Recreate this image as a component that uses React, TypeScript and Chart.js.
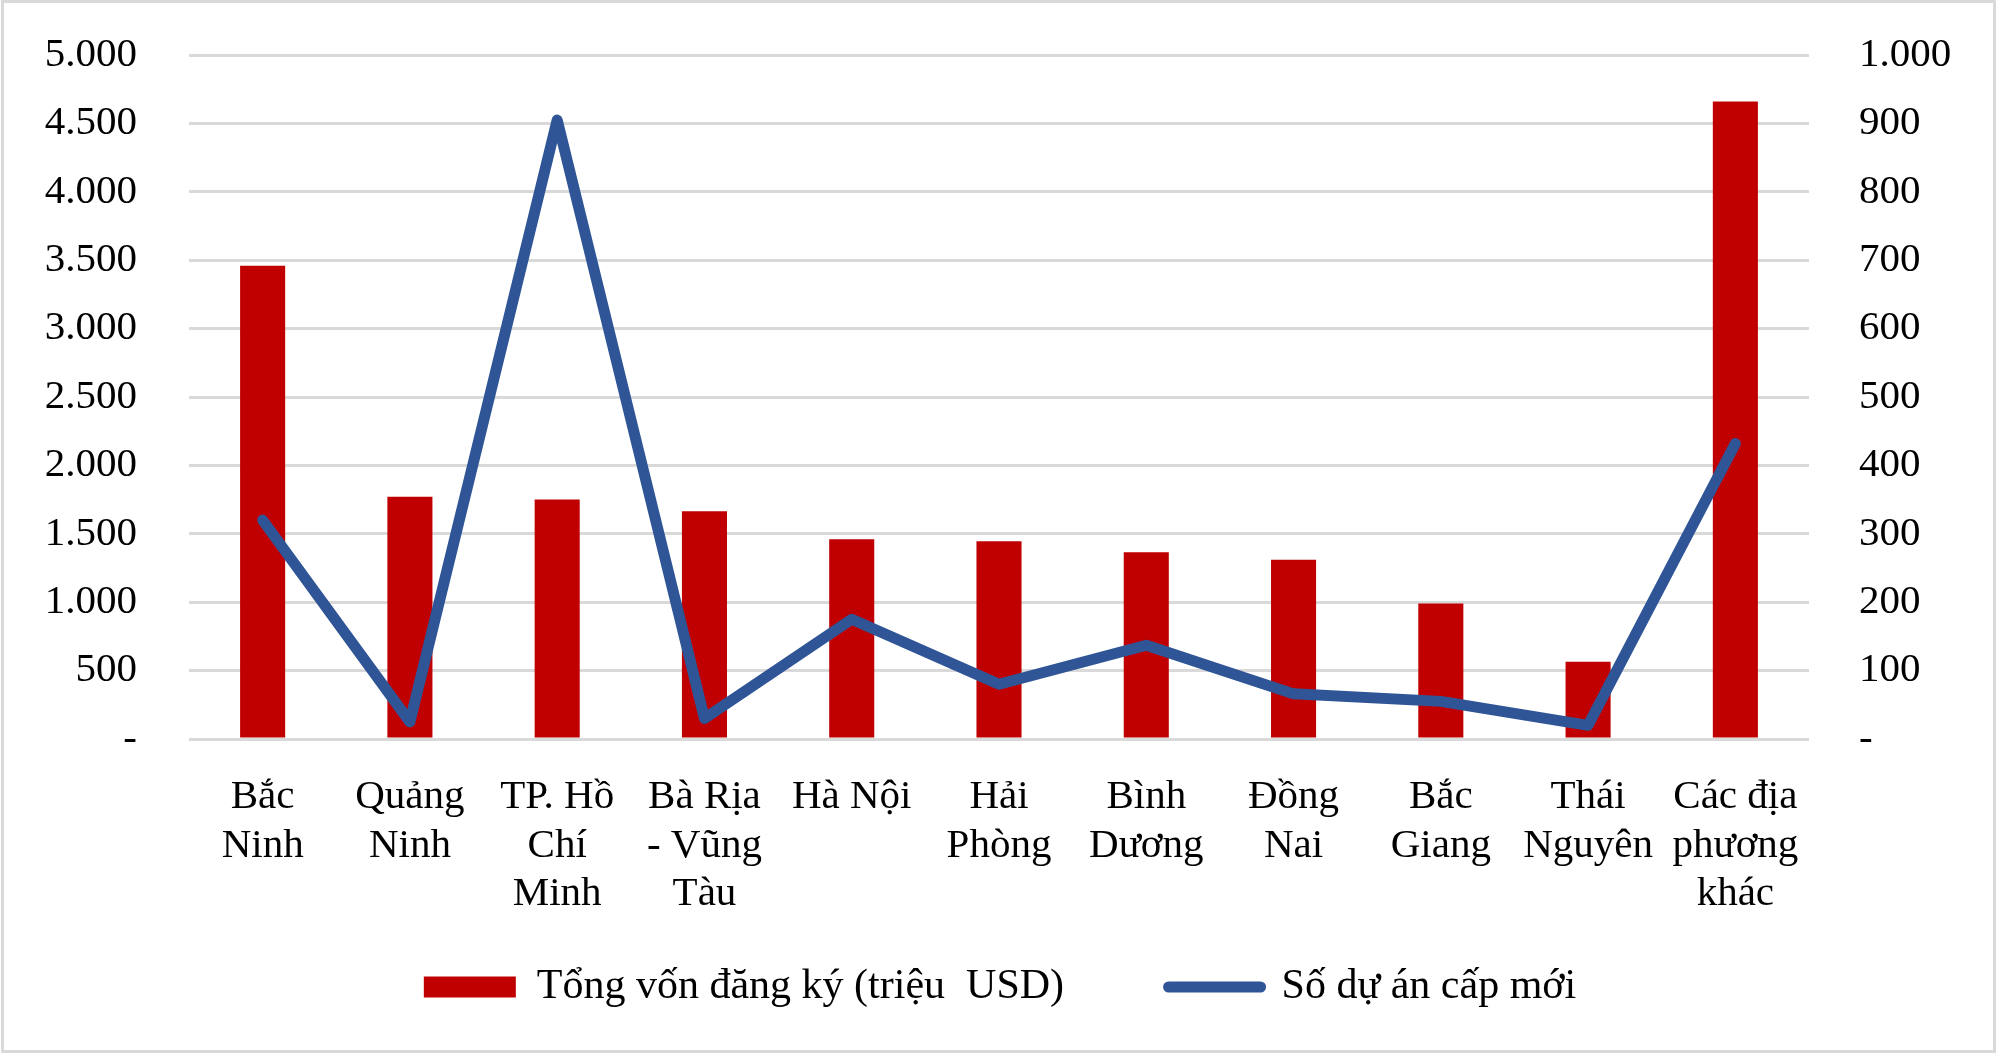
import React, { useEffect, useRef } from "react";
import { Chart, registerables } from "chart.js";

Chart.register(...registerables);

const categories: string[][] = [
  ["Bắc", "Ninh"],
  ["Quảng", "Ninh"],
  ["TP. Hồ", "Chí", "Minh"],
  ["Bà Rịa", "- Vũng", "Tàu"],
  ["Hà Nội"],
  ["Hải", "Phòng"],
  ["Bình", "Dương"],
  ["Đồng", "Nai"],
  ["Bắc", "Giang"],
  ["Thái", "Nguyên"],
  ["Các địa", "phương", "khác"],
];

const registeredCapital: number[] = [3460, 1770, 1750, 1665, 1460, 1445, 1365, 1310, 990, 565, 4660];
const newProjects: number[] = [320, 25, 905, 30, 175, 80, 137, 66, 55, 20, 432];

const seriesNames = ["Tổng vốn đăng ký (triệu  USD)", "Số dự án cấp mới"];

const RED = "#C00000";
const BLUE = "#2F5597";
const GRID = "#D9D9D9";
const FONT = "'Liberation Serif', 'Times New Roman', serif";

const fmt = (v: number) => {
  if (v === 0) return "-";
  return Math.round(v).toString().replace(/\B(?=(\d{3})+(?!\d))/g, ".");
};

export default function App() {
  const ref = useRef<HTMLCanvasElement | null>(null);

  useEffect(() => {
    if (!ref.current) return;
    const chart = new Chart(ref.current, {
      type: "bar",
      data: {
        labels: categories,
        datasets: [
          {
            type: "bar",
            label: seriesNames[0],
            data: registeredCapital,
            backgroundColor: RED,
            borderWidth: 0,
            barPercentage: 0.306,
            categoryPercentage: 1,
            yAxisID: "y",
            order: 1,
          },
          {
            type: "line",
            label: seriesNames[1],
            data: newProjects,
            borderColor: BLUE,
            backgroundColor: BLUE,
            borderWidth: 11,
            borderJoinStyle: "round",
            borderCapStyle: "round",
            pointRadius: 0,
            tension: 0,
            yAxisID: "y1",
            order: 0,
          } as any,
        ],
      },
      options: {
        responsive: false,
        animation: false,
        layout: { padding: { top: 55, bottom: 38, left: 0, right: 0 } },
        plugins: {
          tooltip: { enabled: false },
          legend: {
            position: "bottom",
            labels: {
              usePointStyle: true,
              pointStyleWidth: 92,
              boxHeight: 21,
              padding: 52,
              color: "#000",
              font: { family: FONT, size: 42 },
              generateLabels: (chart: any) => {
                const items = Chart.defaults.plugins.legend.labels.generateLabels(chart);
                return items
                  .sort((a: any, b: any) => a.datasetIndex - b.datasetIndex)
                  .map((it: any) =>
                    it.datasetIndex === 0
                      ? { ...it, text: it.text + "     ", pointStyle: "rect", lineWidth: 0, fillStyle: RED, strokeStyle: RED }
                      : { ...it, pointStyle: "line", lineWidth: 11, strokeStyle: BLUE, fillStyle: BLUE, lineCap: "round" }
                  );
              },
            },
          },
        },
        scales: {
          x: {
            grid: { display: false },
            border: { display: false },
            ticks: {
              color: "#000",
              font: { family: FONT, size: 41, lineHeight: 1.183 },
              padding: 26,
              maxRotation: 0,
              autoSkip: false,
            },
            afterFit: (s: any) => {
              s.height = 175;
            },
          },
          y: {
            position: "left",
            min: 0,
            max: 5000,
            grid: { color: GRID, lineWidth: 3, drawTicks: true, tickLength: 52, tickColor: "rgba(0,0,0,0)" },
            border: { display: false },
            ticks: {
              stepSize: 500,
              padding: 0,
              color: "#000",
              font: { family: FONT, size: 41 },
              callback: (v: any) => fmt(Number(v)),
            },
            afterFit: (s: any) => {
              s.width = 189;
            },
          },
          y1: {
            position: "right",
            min: 0,
            max: 1000,
            grid: { display: false, drawTicks: true, tickLength: 50 },
            border: { display: false },
            ticks: {
              stepSize: 100,
              padding: 0,
              color: "#000",
              font: { family: FONT, size: 41 },
              callback: (v: any) => fmt(Number(v)),
            },
            afterFit: (s: any) => {
              s.width = 191;
            },
          },
        },
      } as any,
    });
    return () => chart.destroy();
  }, []);

  return (
    <div style={{ position: "absolute", left: 0, top: 0, width: 2000, height: 1056, background: "#fff" }}>
      <canvas ref={ref} width={2000} height={1056} style={{ position: "absolute", left: 0, top: 0, width: 2000, height: 1056 }} />
      <div
        style={{
          position: "absolute",
          left: 1,
          top: 0,
          width: 1995,
          height: 1053,
          boxSizing: "border-box",
          border: "3px solid #D9D9D9",
          pointerEvents: "none",
        }}
      />
    </div>
  );
}
